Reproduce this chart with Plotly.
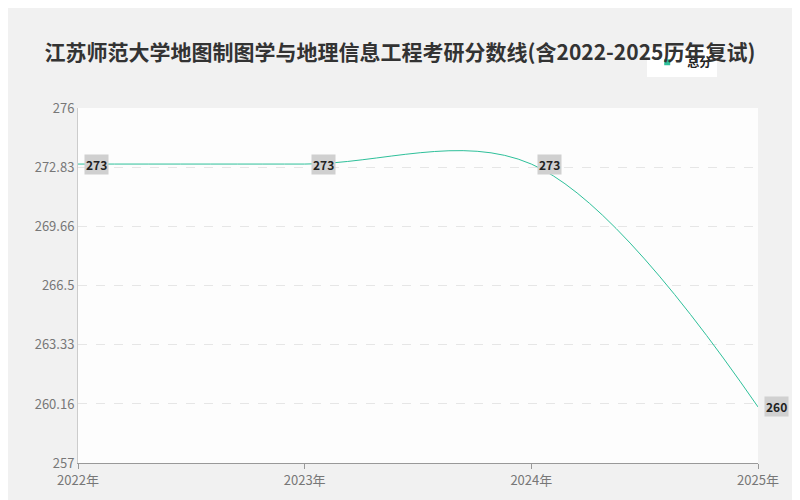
import plotly.graph_objects as go

years = ["2022年", "2023年", "2024年", "2025年"]
x_pos = [0, 1, 2, 3]
scores = [273, 273, 273, 260]
y_ticks = [257, 260.16, 263.33, 266.5, 269.66, 272.83, 276]
title = "江苏师范大学地图制图学与地理信息工程考研分数线(含2022-2025历年复试)"

fig = go.Figure()
fig.add_trace(go.Scatter(
    x=x_pos, y=scores, mode="lines", showlegend=False,
    line=dict(color="#2ec09a", width=1, shape="spline", smoothing=1.0),
))
# 圖例用方塊
fig.add_trace(go.Scatter(
    x=[None], y=[None], mode="markers", name="<b>总分</b>",
    marker=dict(symbol="square", size=6, color="#2ec09a"),
))

# 數據標籤
for xv, yv in zip(x_pos, scores):
    fig.add_annotation(
        x=xv, y=yv, text="<b>%d</b>" % yv, showarrow=False,
        xanchor="left", xshift=6, bgcolor="#d0d0d0",
        font=dict(size=12, color="#222"), borderpad=1,
    )

fig.update_layout(
    width=800, height=500,
    paper_bgcolor="#f1f1f1", plot_bgcolor="#fdfdfd",
    margin=dict(l=70, r=50, t=100, b=45, autoexpand=False),
    font=dict(family="Noto Sans CJK SC", color="#777"),
    title=dict(text="<b>" + title + "</b>", x=0.49, y=0.925, xanchor="center",
               font=dict(size=21, color="#333")),
    showlegend=True,
    legend=dict(x=0.94, y=1.17, xanchor="right", bgcolor="white",
                font=dict(size=12, color="#222"), itemwidth=30),
)
fig.update_xaxes(
    tickvals=x_pos, ticktext=years, range=[0, 3], showgrid=False,
    showline=True, linecolor="#999", ticks="outside", tickcolor="#999",
    tickfont=dict(size=13, color="#777"),
)
fig.update_yaxes(
    tickvals=y_ticks, ticktext=[str(v) for v in y_ticks], range=[257, 276],
    showgrid=True, gridcolor="#e6e6e6", griddash="dash",
    showline=True, linecolor="#ccc", zeroline=False,
    tickfont=dict(size=13, color="#777"),
)

fig.write_html("out.html")
